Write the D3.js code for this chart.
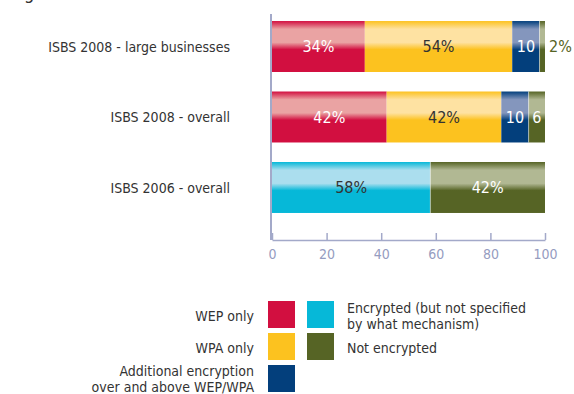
<!DOCTYPE html>
<html>
<head>
<meta charset="utf-8">
<script src="https://cdn.jsdelivr.net/npm/d3@7"></script>
<style>
  body { margin: 0; background: #fff; }
  text { font-family: "Liberation Sans Narrow", "DejaVu Sans Condensed", sans-serif; }
</style>
</head>
<body>
<script>
const width = 574
const height = 394

// data
const categories = ['ISBS 2008 - large businesses', 'ISBS 2008 - overall', 'ISBS 2006 - overall']
const wepOnly = [34, 42, 0]
const wpaOnly = [54, 42, 0]
const additional = [10, 10, 0]
const unspecified = [0, 0, 58]
const notEncrypted = [2, 6, 42]
const wepLabels = ['34%', '42%', '']
const wpaLabels = ['54%', '42%', '']
const additionalLabels = ['10', '10', '']
const unspecifiedLabels = ['', '', '58%']
const notEncryptedLabels = ['2%', '6', '42%']
const xTicks = [0, 20, 40, 60, 80, 100]

const series = [
  { key: 'wep', name: 'WEP only', values: wepOnly, labels: wepLabels, color: '#d20f40', light: '#eaa3a3', text: '#fff' },
  { key: 'wpa', name: 'WPA only', values: wpaOnly, labels: wpaLabels, color: '#fcc21f', light: '#fee2a2', text: '#333' },
  { key: 'add', name: 'Additional encryption\nover and above WEP/WPA', values: additional, labels: additionalLabels, color: '#033f7c', light: '#8496bd', text: '#fff' },
  { key: 'unspec', name: 'Encrypted (but not specified\nby what mechanism)', values: unspecified, labels: unspecifiedLabels, color: '#06b8d8', light: '#abdeee', text: '#333' },
  { key: 'none', name: 'Not encrypted', values: notEncrypted, labels: notEncryptedLabels, color: '#566425', light: '#b1b893', text: '#fff' }
]

const svg = d3.select('body')
  .append('svg')
  .attr('width', width)
  .attr('height', height)

// cut-off title line at the very top
svg.append('text')
  .attr('x', 24)
  .attr('y', -1)
  .style('font-size', '18px')
  .attr('fill', '#333')
  .text('g')

const defs = svg.append('defs')
series.forEach(s => {
  const g = defs.append('linearGradient')
    .attr('id', 'grad-' + s.key)
    .attr('x1', 0).attr('y1', 0).attr('x2', 0).attr('y2', 1)
  g.append('stop').attr('offset', '0%').attr('stop-color', s.color)
  g.append('stop').attr('offset', '16%').attr('stop-color', s.light)
  g.append('stop').attr('offset', '42%').attr('stop-color', s.light)
  g.append('stop').attr('offset', '56%').attr('stop-color', s.color)
  g.append('stop').attr('offset', '100%').attr('stop-color', s.color)
})

const x = d3.scaleLinear()
  .domain([0, 100])
  .range([272, 545])

const y = d3.scaleBand()
  .domain(categories)
  .range([1.5, 232.5])
  .padding(0.277)

const axisColor = '#a3a9c9'

// vertical baseline
svg.append('line')
  .attr('x1', 271).attr('x2', 271)
  .attr('y1', 14).attr('y2', 240)
  .attr('stroke', axisColor)
  .attr('stroke-width', 2)

// stacked bars
categories.forEach((cat, i) => {
  let start = 0
  series.forEach(s => {
    const v = s.values[i]
    if (!v) return
    const x0 = x(start)
    const x1 = x(start + v)
    svg.append('rect')
      .attr('x', x0)
      .attr('y', y(cat))
      .attr('width', x1 - x0)
      .attr('height', y.bandwidth())
      .attr('fill', 'url(#grad-' + s.key + ')')

    const label = s.labels[i]
    if (label) {
      const outside = (x1 - x0) < 14
      svg.append('text')
        .attr('x', outside ? x1 + 4 : (x0 + x1) / 2)
        .attr('y', y(cat) + y.bandwidth() / 2)
        .attr('dy', '0.36em')
        .attr('text-anchor', outside ? 'start' : 'middle')
        .attr('fill', outside ? s.color : s.text)
        .style('font-size', '16px')
        .text(label)
    }
    start += v
  })
})

// thin separators between segments
categories.forEach((cat, i) => {
  let start = 0
  series.forEach((s, j) => {
    const v = s.values[i]
    if (!v) return
    start += v
    if (start < 100 && j > 1) {
      svg.append('line')
        .attr('x1', x(start)).attr('x2', x(start))
        .attr('y1', y(cat)).attr('y2', y(cat) + y.bandwidth())
        .attr('stroke', 'rgba(255,255,255,0.45)')
        .attr('stroke-width', 1)
    }
  })
})

// category labels
svg.append('g')
  .selectAll('text')
  .data(categories)
  .enter()
  .append('text')
  .attr('x', 230)
  .attr('y', d => y(d) + y.bandwidth() / 2)
  .attr('dy', '0.36em')
  .attr('text-anchor', 'end')
  .attr('fill', '#333')
  .style('font-size', '14px')
  .text(d => d)

// x axis
const xAxis = d3.axisBottom(x)
  .tickValues(xTicks)
  .tickSizeInner(-7)
  .tickSizeOuter(0)
  .tickPadding(9)

const ax = svg.append('g')
  .attr('transform', 'translate(0, 240)')
  .call(xAxis)
ax.select('.domain').attr('stroke', axisColor).attr('stroke-width', 1.5)
ax.selectAll('.tick line').attr('stroke', axisColor).attr('stroke-width', 1.5)
ax.selectAll('.tick text')
  .attr('fill', '#959cbf')
  .style('font-size', '14px')
  .style('font-family', '"Liberation Sans Narrow", "DejaVu Sans Condensed", sans-serif')

// legend
const legendItems = [
  { s: series[0], col: 0, row: 0 },
  { s: series[1], col: 0, row: 1 },
  { s: series[2], col: 0, row: 2 },
  { s: series[3], col: 1, row: 0 },
  { s: series[4], col: 1, row: 1 }
]
const lg = svg.append('g')
legendItems.forEach(item => {
  const sx = 268 + item.col * 39
  const sy = 301 + item.row * 32
  lg.append('rect')
    .attr('x', sx).attr('y', sy)
    .attr('width', 27).attr('height', 27)
    .attr('fill', item.s.color)
  const lines = item.s.name.split('\n')
  const t = lg.append('text')
    .attr('fill', '#333')
    .style('font-size', '14px')
    .attr('text-anchor', item.col === 0 ? 'end' : 'start')
  const tx = item.col === 0 ? 254 : 347
  let firstY = sy + 15
  if (lines.length > 1) firstY = item.col === 0 ? sy + 6 : sy + 7
  lines.forEach((ln, k) => {
    t.append('tspan')
      .attr('x', tx)
      .attr('y', firstY + k * 16)
      .attr('dy', '0.36em')
      .text(ln)
  })
})
</script>
</body>
</html>
